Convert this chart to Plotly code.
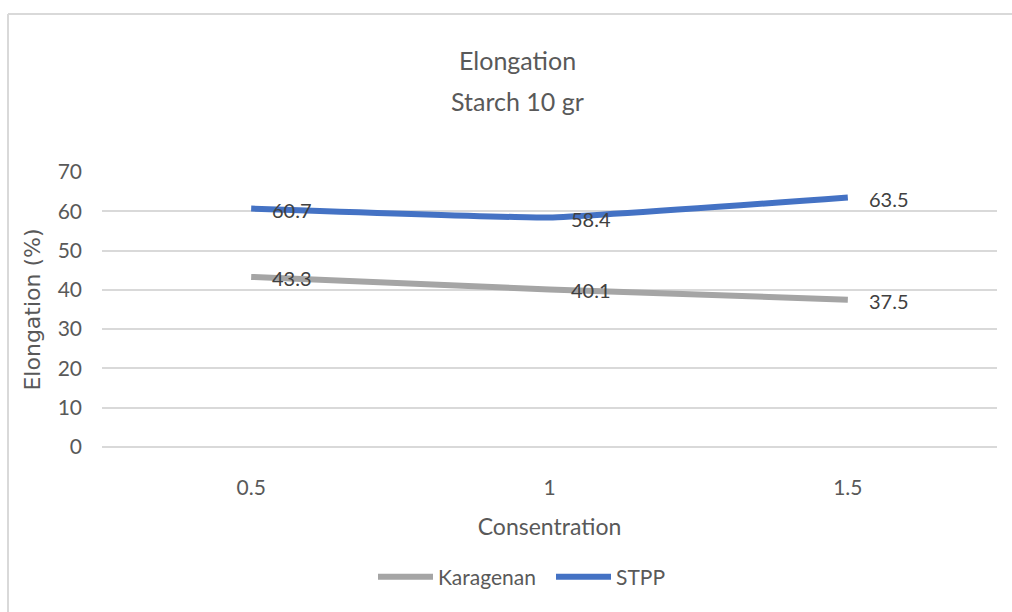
import plotly.graph_objects as go

# Concentration levels and elongation (%) per additive
concentrations = ["0.5", "1", "1.5"]
karagenan = [43.3, 40.1, 37.5]
stpp = [60.7, 58.4, 63.5]
y_ticks = [0, 10, 20, 30, 40, 50, 60, 70]

W, H = 1012, 612
L, R, T, B = 102, 15, 172, 165
PW, PH = W - L - R, H - T - B
FONT = "Lato, 'Open Sans', sans-serif"
TXT = "#595959"


def px_x(px):
    """page x pixel -> plot-area paper fraction"""
    return (px - L) / PW


def px_y(py):
    """page y pixel -> plot-area paper fraction"""
    return (H - B - py) / PH


fig = go.Figure()
fig.add_trace(go.Scatter(
    x=concentrations, y=karagenan, name="Karagenan", mode="lines", legend="legend",
    line=dict(color="#A5A5A5", width=6, shape="spline", smoothing=0.25),
))
fig.add_trace(go.Scatter(
    x=concentrations, y=stpp, name="STPP", mode="lines", legend="legend2",
    line=dict(color="#4472C4", width=6, shape="spline", smoothing=0.25),
))

annotations = []
# value labels to the right of each point (category index positions)
for series in (karagenan, stpp):
    for i, v in enumerate(series):
        annotations.append(dict(
            x=i, y=v, xref="x", yref="y", text=f"{v:.1f}", showarrow=False,
            xanchor="left", yanchor="middle", xshift=19, yshift=-1,
            font=dict(family=FONT, size=20, color="#404040"),
        ))

# two-line chart title
for text, py in (("Elongation", 60), ("Starch 10 gr", 101)):
    annotations.append(dict(x=px_x(517), y=px_y(py), xref="paper", yref="paper",
                            text=text, showarrow=False, xanchor="center", yanchor="middle",
                            font=dict(family=FONT, size=25, color=TXT)))

legend_style = dict(orientation="h", xanchor="left", yanchor="middle", y=px_y(577),
                    font=dict(family=FONT, size=21, color=TXT), itemwidth=55,
                    bgcolor="rgba(0,0,0,0)")

fig.update_layout(
    width=W, height=H,
    margin=dict(l=L, r=R, t=T, b=B, autoexpand=False),
    paper_bgcolor="white", plot_bgcolor="white",
    font=dict(family=FONT, size=21, color=TXT),
    showlegend=True,
    legend=dict(x=px_x(373), **legend_style),
    legend2=dict(x=px_x(551), **legend_style),
    annotations=annotations,
    shapes=[
        dict(type="line", xref="paper", yref="paper",
             x0=px_x(8), x1=px_x(W + 5), y0=px_y(14), y1=px_y(14),
             line=dict(color="#D9D9D9", width=2)),
        dict(type="line", xref="paper", yref="paper",
             x0=px_x(8), x1=px_x(8), y0=px_y(14), y1=px_y(H + 5),
             line=dict(color="#D9D9D9", width=2)),
    ],
)

fig.update_xaxes(
    type="category", range=[-0.5, 2.5], showgrid=False, showline=False,
    zeroline=False, ticks="", ticklabelstandoff=26,
    tickfont=dict(family=FONT, size=21, color=TXT),
    title=dict(text="Consentration", font=dict(family=FONT, size=23, color=TXT), standoff=20),
)
fig.update_yaxes(
    range=[0, 70], tickvals=y_ticks, showgrid=True, gridcolor="#D9D9D9", gridwidth=2,
    zeroline=True, zerolinecolor="#D9D9D9", zerolinewidth=2, showline=False,
    ticks="", ticklabelstandoff=19,
    tickfont=dict(family=FONT, size=21, color=TXT),
    title=dict(text="Elongation (%)", font=dict(family="'DejaVu Sans', sans-serif", size=22, color=TXT), standoff=10),
)

fig.write_html("out.html")
